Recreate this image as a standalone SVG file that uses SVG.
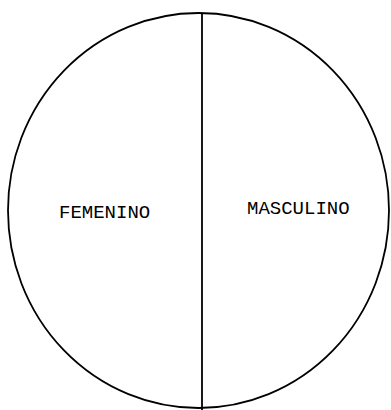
<svg xmlns="http://www.w3.org/2000/svg" width="391" height="410" viewBox="0 0 391 410">
<style>
.outline{fill:none;stroke:#000;stroke-width:1.8}
.lbl{font-family:"Liberation Mono","Courier New",monospace;font-size:19px;fill:#000}
</style>
<rect width="391" height="410" fill="#fff"/>
<g id="circle">
<ellipse class="outline" cx="198.5" cy="210.5" rx="190.5" ry="197.5"/>
</g>
<g id="connectors">
<line class="outline" x1="202" y1="13" x2="202" y2="410"/>
</g>
<g id="femenino">
<text class="lbl" x="59" y="218">FEMENINO</text>
</g>
<g id="masculino">
<text class="lbl" x="247" y="214">MASCULINO</text>
</g>
</svg>
